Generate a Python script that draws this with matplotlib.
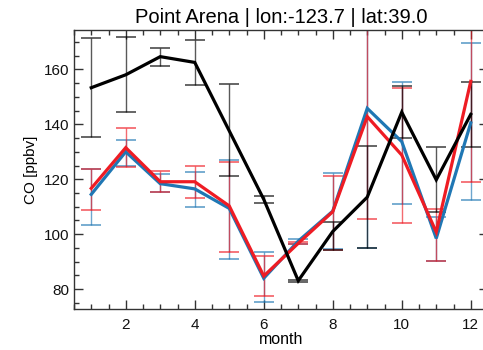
import matplotlib
matplotlib.use("Agg")
import matplotlib.pyplot as plt
from matplotlib.ticker import MultipleLocator

plt.rcParams['font.family'] = ['Liberation Sans', 'DejaVu Sans']

months = [1, 2, 3, 4, 5, 6, 7, 8, 9, 10, 11, 12]

black_val = [153.3, 158.0, 164.6, 162.5, 137.6, 112.7, 83.1, 101.0, 113.5, 144.4, 119.8, 143.6]
black_hi = [171.3, 171.7, 167.6, 170.5, 154.5, 113.9, 83.4, 104.6, 132.2, 153.9, 131.9, 155.5]
black_lo = [135.4, 144.4, 161.2, 154.3, 121.1, 111.5, 82.8, 94.4, 94.9, 135.0, 108.2, 131.9]

red_val = [116.7, 131.5, 119.1, 119.1, 110.3, 84.8, 96.7, 108.2, 142.8, 128.8, 100.8, 155.6]
red_hi = [123.9, 138.7, 123.1, 125.0, 126.4, 92.1, 97.2, 121.3, 180.0, 153.1, 109.2, 180.0]
red_lo = [108.7, 124.4, 115.4, 113.3, 93.6, 77.5, 96.4, 94.3, 105.6, 104.2, 90.3, 118.9]

blue_val = [114.5, 130.0, 118.4, 116.5, 109.4, 84.0, 97.5, 108.4, 145.8, 133.7, 98.5, 140.5]
blue_hi = [123.9, 134.2, 121.8, 122.5, 127.1, 93.7, 98.3, 122.2, 182.0, 155.5, 106.4, 169.4]
blue_lo = [103.4, 125.0, 115.4, 110.0, 90.9, 75.5, 96.6, 94.6, 94.9, 110.9, 90.3, 112.5]

title = "Point Arena | lon:-123.7 | lat:39.0"

BLUE = "#1f77b4"
RED = "#ee1c24"
BLACK = "#000000"

fig = plt.figure(figsize=(4.83, 3.5), dpi=100)
ax = fig.add_axes([74 / 483, 1 - 309.3 / 350, (488 - 74) / 483, (309.3 - 29.7) / 350])

def errbars(vals, lo, hi, color):
    yerr = [[v - l for v, l in zip(vals, lo)], [h - v for v, h in zip(vals, hi)]]
    eb = ax.errorbar(months, vals, yerr=yerr, fmt='none', ecolor=color,
                     elinewidth=1.0, capsize=7.5, capthick=1.3, alpha=0.65, zorder=2)
    return eb

errbars(blue_val, blue_lo, blue_hi, BLUE)
errbars(red_val, red_lo, red_hi, RED)
errbars(black_val, black_lo, black_hi, BLACK)

ax.plot(months, blue_val, color=BLUE, lw=2.3, zorder=3, solid_joinstyle='miter')
ax.plot(months, red_val, color=RED, lw=2.3, zorder=4, solid_joinstyle='miter')
ax.plot(months, black_val, color=BLACK, lw=2.3, zorder=5, solid_joinstyle='miter')

ax.set_xlim(0.5, 12.5)
ax.set_ylim(72.7, 174.4)
ax.xaxis.set_major_locator(MultipleLocator(2))
ax.xaxis.set_minor_locator(MultipleLocator(0.5))
ax.yaxis.set_major_locator(MultipleLocator(20))
ax.yaxis.set_minor_locator(MultipleLocator(5))
ax.tick_params(which='both', direction='in', top=True, right=True, labelsize=11,
               colors='#333333', labelcolor='#111111')
ax.tick_params(axis='x', which='major', pad=6)
ax.tick_params(which='major', length=6.5, width=1.0)
ax.tick_params(which='minor', length=3.3, width=1.0)
for s in ax.spines.values():
    s.set_linewidth(1.0)
    s.set_color('#333333')

ax.set_xlabel("month", fontsize=11.5, labelpad=0)
ax.set_ylabel("CO [ppbv]", fontsize=11, labelpad=4)
ax.set_title(title, fontsize=14.5, pad=5)

fig.savefig("out.png", dpi=100)
